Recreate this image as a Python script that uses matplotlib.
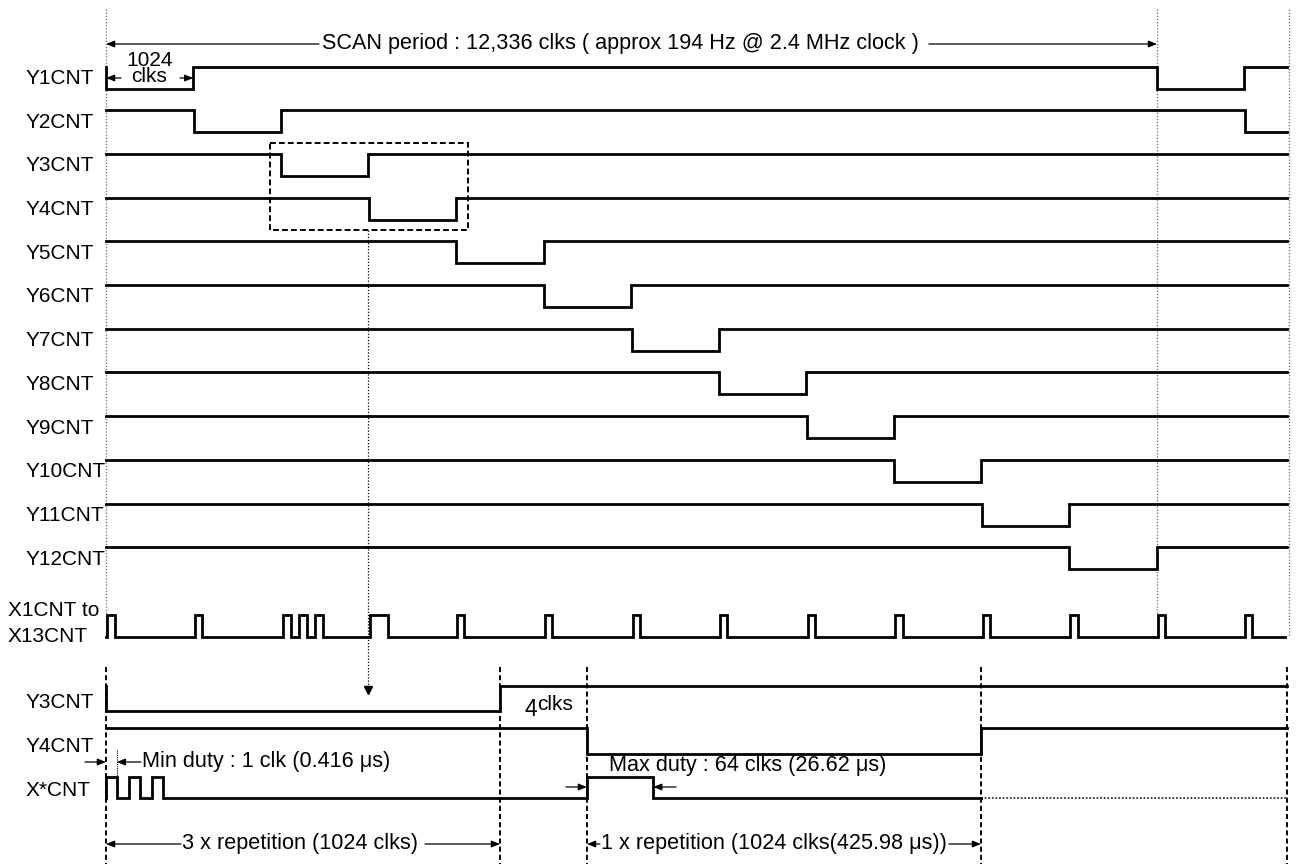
import numpy as np
import matplotlib
matplotlib.use('Agg')
import matplotlib.pyplot as plt
from matplotlib.patches import Rectangle

plt.rcParams['font.family'] = ['Liberation Sans', 'DejaVu Sans']
plt.rcParams['font.size'] = 15

W, H = 1298, 864
NOTE_FS = 15.6

#---------------- scan timing (clks)
scan_clks = 12336
y_names = ['Y1CNT', 'Y2CNT', 'Y3CNT', 'Y4CNT', 'Y5CNT', 'Y6CNT',
           'Y7CNT', 'Y8CNT', 'Y9CNT', 'Y10CNT', 'Y11CNT', 'Y12CNT']
y_low_start = [0, 1028, 2056, 3084, 4112, 5140, 6168, 7196, 8224, 9252, 10280, 11308]
y_low_len = 1024
next_scan_start = [12336, 13364]          # Y1, Y2 of the next scan
view_end = 13860

x_pulse_start = [10, 1045, 2077, 2265, 2453, 3099, 4120, 5150, 6180, 7205,
                 8235, 9265, 10290, 11320, 12345, 13370]
x_pulse_width = [95, 85, 95, 95, 95, 210, 85, 85, 90, 85, 90, 85, 85, 85, 85, 85]
x_row_end = 13840

zoom_box = [1925, 4249]
zoom_marker = 3070

#---------------- zoomed view Y3 -> Y4 (clks)
z_y3_low = [(0, 1024)]
z_y4_low = [(1028, 2052)]
z_x_pulses = [(0, 28), (60, 88), (119, 148), (1028, 1200)]
z_x_solid_end = 2052
z_end = 2847
z_marks = [0, 1024, 1028, 2052, 2847]


def trace(intervals, t0, t1, base, act):
    xs = [t0]
    ys = [base]
    for a, b in intervals:
        if b >= t1:
            xs += [a, a, t1]
            ys += [base, act, act]
            return xs, ys
        xs += [a, a, b, b]
        ys += [base, act, act, base]
    xs.append(t1)
    ys.append(base)
    return xs, ys


fig = plt.figure(figsize=(W / 100.0, H / 100.0), dpi=100)
fig.patch.set_facecolor('white')

# top axes : x in clks, y in pixels
s = (1157 - 106) / float(scan_clks)
ax = fig.add_axes([0, 0, 1, 1])
ax.set_xlim(-106 / s, (W - 106) / s)
ax.set_ylim(H, 0)
ax.axis('off')

# bottom axes : piecewise scale (the 4 clk gap is stretched)
k = 394.0 / 1024
bp_clk = np.array([-2000, 0, 1024, 1028, 2052, 5000], float)
bp_px = np.array([106 - 2000 * k, 106, 500, 587, 981, 981 + (5000 - 2052) * k])
fwd = lambda v: np.interp(v, bp_clk, bp_px)
inv = lambda p: np.interp(p, bp_px, bp_clk)
axb = fig.add_axes([0, 0, 1, 1])
axb.patch.set_alpha(0)
axb.set_xscale('function', functions=(fwd, inv))
axb.set_xlim(inv(0), inv(W))
axb.set_ylim(H, 0)
axb.axis('off')

# overlay in pixels for texts
ov = fig.add_axes([0, 0, 1, 1])
ov.patch.set_alpha(0)
ov.set_xlim(0, W)
ov.set_ylim(H, 0)
ov.axis('off')

LW = 2.0
grey = dict(color='#666666', lw=0.9, linestyle=(0, (1, 1.5)))
arr = dict(arrowstyle='-|>,head_length=0.5,head_width=0.2', color='black',
           lw=0.9, shrinkA=0, shrinkB=0, mutation_scale=10)

#---------------- top rows
hi0 = 66.5
step = 43.7
for i, name in enumerate(y_names):
    hi = hi0 + step * i
    lo = hi + 22
    iv = [(y_low_start[i], y_low_start[i] + y_low_len)]
    if i < len(next_scan_start):
        iv.append((next_scan_start[i], next_scan_start[i] + y_low_len))
    xs, ys = trace(iv, 0, view_end, hi, lo)
    ax.plot(xs, ys, color='black', lw=LW, solid_joinstyle='miter', zorder=3)
    ov.text(26, hi + 12, name, ha='left', va='center')

# X1CNT to X13CNT
x_hi, x_lo = 615, 637
iv = [(a, a + w) for a, w in zip(x_pulse_start, x_pulse_width)]
xs, ys = trace(iv, 0, x_row_end, x_lo, x_hi)
ax.plot(xs, ys, color='black', lw=LW, solid_joinstyle='miter', zorder=3)
ov.text(8, 611, 'X1CNT to', ha='left', va='center')
ov.text(8, 636, 'X13CNT', ha='left', va='center')

# grey dotted guides
ax.plot([0, 0], [9, x_lo], **grey)
ax.plot([scan_clks, scan_clks], [9, x_hi], **grey)
ax.plot([13890, 13890], [9, x_lo], **grey)

# texts first, so that the arrow tails can follow them
t_scan = ov.text(322, 44, 'SCAN period : 12,336 clks ( approx 194 Hz @ 2.4 MHz clock )',
                 ha='left', va='center', fontsize=NOTE_FS)
ov.text(150, 60, '1024', ha='center', va='center')
ov.text(149, 77, 'clks', ha='center', va='center')

ov.text(26, 703, 'Y3CNT', ha='left', va='center')
ov.text(26, 747, 'Y4CNT', ha='left', va='center')
ov.text(26, 790, 'X*CNT', ha='left', va='center')
ov.text(531, 709, '4', ha='center', va='center', fontsize=16.5)
ov.text(537, 704, 'clks', ha='left', va='center')
ov.text(142, 762, 'Min duty : 1 clk (0.416 μs)', ha='left', va='center', fontsize=NOTE_FS)
ov.text(609, 765, 'Max duty : 64 clks (26.62 μs)', ha='left', va='center', fontsize=NOTE_FS)
t_rep3 = ov.text(182, 844, '3 x repetition (1024 clks)', ha='left', va='center',
                 fontsize=NOTE_FS)
t_rep1 = ov.text(601, 844, '1 x repetition (1024 clks(425.98 μs))', ha='left',
                 va='center', fontsize=NOTE_FS)

fig.canvas.draw()
rend = fig.canvas.get_renderer()
scan_end = t_scan.get_window_extent(rend).x1
rep3_end = t_rep3.get_window_extent(rend).x1
rep1_end = t_rep1.get_window_extent(rend).x1

# scan period arrow
ax.annotate('', xy=(0, 44), xytext=(319, 44), textcoords=ov.transData, arrowprops=arr)
ax.annotate('', xy=(scan_clks, 44), xytext=(scan_end + 10, 44), textcoords=ov.transData,
            arrowprops=arr)

# 1024 clks
ax.annotate('', xy=(0, 78), xytext=(121, 78), textcoords=ov.transData, arrowprops=arr)
ax.annotate('', xy=(y_low_len, 78), xytext=(180, 78), textcoords=ov.transData, arrowprops=arr)

# dashed zoom box and marker arrow
ax.add_patch(Rectangle((zoom_box[0], 143), zoom_box[1] - zoom_box[0], 87, fill=False,
                       edgecolor='black', lw=1.4, linestyle=(0, (3, 1.6)), zorder=2))
ax.plot([zoom_marker, zoom_marker], [230, 688], color='black', lw=0.9,
        linestyle=(0, (1, 1.5)))
ax.plot([zoom_marker], [690], marker='v', color='black', markersize=6, zorder=4)

#---------------- bottom zoomed section
for m in z_marks:
    axb.plot([m, m], [667, H], color='black', lw=1.4, linestyle=(0, (2.6, 1.6)))

xs, ys = trace(z_y3_low, 0, z_end, 686, 711)
axb.plot(xs, ys, color='black', lw=LW, solid_joinstyle='miter', zorder=3)
xs, ys = trace(z_y4_low, 0, z_end, 728, 754)
axb.plot(xs, ys, color='black', lw=LW, solid_joinstyle='miter', zorder=3)
xs, ys = trace(z_x_pulses, 0, z_x_solid_end, 798, 777)
axb.plot(xs, ys, color='black', lw=LW, solid_joinstyle='miter', zorder=3)
axb.plot([z_x_solid_end, z_end], [798, 798], color='#333333', lw=1.3,
         linestyle=(0, (1, 1)))

# min duty
axb.annotate('', xy=(0, 762), xytext=(85, 762), textcoords=ov.transData, arrowprops=arr)
axb.annotate('', xy=(z_x_pulses[0][1], 762), xytext=(141, 762), textcoords=ov.transData,
             arrowprops=arr)
axb.plot([z_x_pulses[0][1]] * 2, [750, 777], color='black', lw=0.8, linestyle=(0, (1, 1)))

# max duty
axb.annotate('', xy=(z_x_pulses[3][0], 787), xytext=(566, 787), textcoords=ov.transData,
             arrowprops=arr)
axb.annotate('', xy=(z_x_pulses[3][1], 787), xytext=(676, 787), textcoords=ov.transData,
             arrowprops=arr)

# repetitions
axb.annotate('', xy=(0, 844), xytext=(181, 844), textcoords=ov.transData, arrowprops=arr)
axb.annotate('', xy=(1024, 844), xytext=(rep3_end + 7, 844), textcoords=ov.transData,
             arrowprops=arr)
axb.annotate('', xy=(1028, 844), xytext=(600, 844), textcoords=ov.transData, arrowprops=arr)
axb.annotate('', xy=(2052, 844), xytext=(rep1_end + 2, 844), textcoords=ov.transData,
             arrowprops=arr)

fig.savefig('out.png', dpi=100)
